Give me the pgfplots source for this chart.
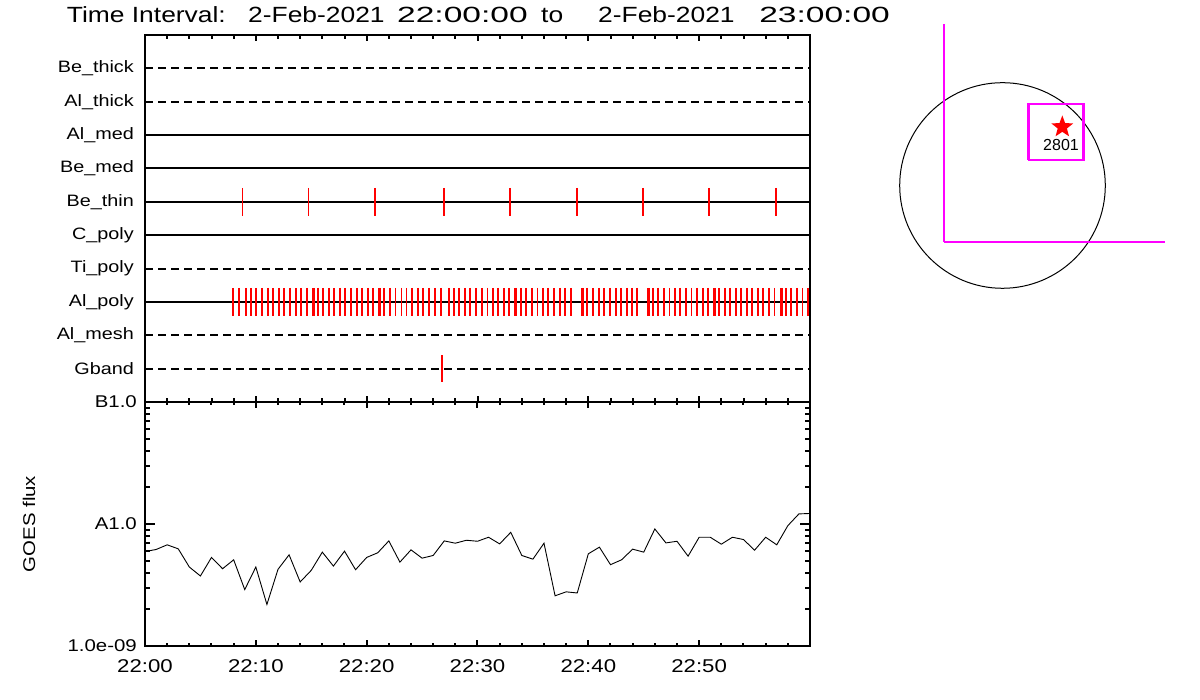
\documentclass[border=0pt]{standalone}
\usepackage{fontspec}
\setmainfont[FakeStretch=1.2]{Liberation Sans}
\newfontfamily\plainfont{Liberation Sans}
\usepackage{graphicx}
\usepackage{pgfplots}
\pgfplotsset{compat=1.18}
\definecolor{idlmag}{RGB}{255,0,255}
\definecolor{idlred}{RGB}{255,0,0}

\pgfdeclareplotmark{fstar}{%
  \pgfpathmoveto{\pgfpointpolar{90}{\pgfplotmarksize}}%
  \pgfpathlineto{\pgfpointpolar{126}{0.42\pgfplotmarksize}}%
  \pgfpathlineto{\pgfpointpolar{162}{\pgfplotmarksize}}%
  \pgfpathlineto{\pgfpointpolar{198}{0.42\pgfplotmarksize}}%
  \pgfpathlineto{\pgfpointpolar{234}{\pgfplotmarksize}}%
  \pgfpathlineto{\pgfpointpolar{270}{0.42\pgfplotmarksize}}%
  \pgfpathlineto{\pgfpointpolar{306}{\pgfplotmarksize}}%
  \pgfpathlineto{\pgfpointpolar{342}{0.42\pgfplotmarksize}}%
  \pgfpathlineto{\pgfpointpolar{18}{\pgfplotmarksize}}%
  \pgfpathlineto{\pgfpointpolar{54}{0.42\pgfplotmarksize}}%
  \pgfpathclose
  \pgfusepathqfill
}

\tikzset{
  solidrow/.style={black, line width=2pt},
  dashrow/.style={black, line width=2pt, dash pattern=on 8pt off 5pt},
  redtick/.style={idlred, only marks, mark=|, mark size=14pt, mark options={idlred, line width=1.7pt}},
}

\begin{document}
\begin{tikzpicture}
\useasboundingbox (0,0) rectangle (1200pt,700pt);

% ---------- title ----------
\begin{scope}[every node/.style={inner sep=0pt, font=\fontsize{22pt}{24pt}\selectfont}]
\node[anchor=base west] at (66.7pt,677.3pt) {Time};
\node[anchor=base west] at (131.7pt,677.3pt) {Interval:};
\node[anchor=base west] at (248pt,677.3pt) {2-Feb-2021};
\node[anchor=base west] at (397pt,677.3pt) {\scalebox{1.27}[1]{22:00:00}};
\node[anchor=base west] at (541pt,677.3pt) {to};
\node[anchor=base west] at (598pt,677.3pt) {2-Feb-2021};
\node[anchor=base east] at (890pt,677.3pt) {\scalebox{1.27}[1]{23:00:00}};
\end{scope}

% ---------- top panel: detector rows ----------
\begin{axis}[
  at={(145pt,298pt)}, anchor=south west, scale only axis,
  width=665pt, height=367pt,
  xmin=0, xmax=60, ymin=0, ymax=11,
  xtick={0,10,...,60}, minor xtick={2,4,...,58},
  xticklabels={},
  ytick={1,...,10},
  yticklabels={Gband, Al\_mesh, Al\_poly, Ti\_poly, C\_poly, Be\_thin, Be\_med, Al\_med, Al\_thick, Be\_thick},
  ytick style={draw=none},
  yticklabel style={font=\fontsize{16.5pt}{18pt}\selectfont, inner sep=0pt, xshift=-11pt},
  tick align=inside,
  major tick length=6pt, minor tick length=4pt,
  every tick/.style={black, line width=2pt},
  axis line style={line width=2.2pt},
]
% red event marks
\addplot[redtick] coordinates {
 (8.8,6) (14.75,6) (20.75,6) (26.98,6) (32.93,6) (38.98,6) (44.93,6) (50.9,6) (56.93,6)
};
\addplot[redtick] coordinates {
 (7.97,3) (8.45,3) (9.14,3) (9.56,3) (10.04,3) (10.58,3) (11.07,3) (11.58,3) (12.06,3) (12.57,3)
 (13.08,3) (13.6,3) (14.1,3) (14.59,3) (15.13,3) (15.23,3) (15.58,3) (16.06,3) (16.58,3) (17.08,3)
 (17.59,3) (18.07,3) (18.59,3) (19.1,3) (19.6,3) (20.12,3) (20.6,3) (21.14,3) (21.24,3) (21.59,3)
 (22.1,3) (22.61,3) (23.13,3) (23.6,3) (24.09,3) (24.6,3) (25.11,3) (25.62,3) (26.14,3) (26.68,3)
 (27.37,3) (27.47,3) (27.85,3) (28.36,3) (28.85,3) (29.35,3) (29.87,3) (30.38,3) (30.89,3) (31.37,3)
 (31.88,3) (32.39,3) (32.87,3) (33.38,3) (33.48,3) (33.9,3) (34.38,3) (34.89,3) (35.4,3) (35.88,3)
 (36.39,3) (36.9,3) (37.42,3) (37.92,3) (38.41,3) (39.4,3) (39.5,3) (39.91,3) (40.42,3) (40.94,3)
 (41.44,3) (41.95,3) (42.47,3) (42.95,3) (43.46,3) (43.94,3) (44.42,3) (45.36,3) (45.46,3) (45.81,3)
 (46.31,3) (46.8,3) (47.31,3) (47.82,3) (48.3,3) (48.81,3) (49.32,3) (49.8,3) (50.32,3) (50.8,3)
 (51.31,3) (51.41,3) (51.79,3) (52.3,3) (52.78,3) (53.3,3) (53.8,3) (54.29,3) (54.79,3) (55.31,3)
 (55.79,3) (56.3,3) (56.81,3) (57.36,3) (57.46,3) (57.81,3) (58.31,3) (58.8,3) (59.31,3) (59.79,3)
};
\addplot[redtick, mark size=13.5pt, mark options={idlred, line width=2pt}] coordinates {(26.8,1)};
% rows
\addplot[dashrow]  coordinates {(0,10) (60,10)};
\addplot[dashrow]  coordinates {(0,9) (60,9)};
\addplot[solidrow] coordinates {(0,8) (60,8)};
\addplot[solidrow] coordinates {(0,7) (60,7)};
\addplot[solidrow] coordinates {(0,6) (60,6)};
\addplot[solidrow] coordinates {(0,5) (60,5)};
\addplot[dashrow]  coordinates {(0,4) (60,4)};
\addplot[solidrow] coordinates {(0,3) (60,3)};
\addplot[dashrow]  coordinates {(0,2) (60,2)};
\addplot[dashrow]  coordinates {(0,1) (60,1)};
\end{axis}

% ---------- bottom panel: GOES flux ----------
\begin{axis}[
  at={(145pt,54pt)}, anchor=south west, scale only axis,
  width=665pt, height=244pt,
  xmin=0, xmax=60, ymode=log, ymin=1e-9, ymax=1e-7,
  xtick={0,10,...,50},
  xticklabels={22:00,22:10,22:20,22:30,22:40,22:50},
  minor xtick={2,4,...,58},
  ytick={1e-9,1e-8,1e-7},
  yticklabels={1.0e-09, A1.0, B1.0},
  minor ytick={2e-9,3e-9,4e-9,5e-9,6e-9,7e-9,8e-9,9e-9,2e-8,3e-8,4e-8,5e-8,6e-8,7e-8,8e-8,9e-8},
  tick align=inside,
  major tick length=10pt, minor tick length=5pt,
  major x tick style={/pgfplots/major tick length=6pt},
  minor x tick style={/pgfplots/minor tick length=3pt},
  every tick/.style={black, line width=2pt},
  axis line style={line width=2.2pt},
  xticklabel style={font=\fontsize{18.5pt}{20pt}\selectfont, inner sep=0pt, yshift=-13pt},
  yticklabel style={font=\fontsize{17pt}{19pt}\selectfont, inner sep=0pt, xshift=-8pt},
  ylabel={GOES flux},
  ylabel style={font=\fontsize{17pt}{19pt}\selectfont, at={(axis description cs:-0.1744,0.5)}, anchor=center},
]
\addplot[black, line width=0.9pt] coordinates {
 (0,5.95e-9) (1,6.18e-9) (2,6.75e-9) (3,6.26e-9) (4,4.44e-9) (5,3.75e-9) (6,5.32e-9) (7,4.30e-9)
 (8,5.09e-9) (9,2.90e-9) (10,4.44e-9) (11,2.19e-9) (12,4.25e-9) (13,5.59e-9) (14,3.35e-9) (15,4.17e-9)
 (16,5.88e-9) (17,4.52e-9) (18,5.99e-9) (19,4.22e-9) (20,5.32e-9) (21,5.81e-9) (22,7.27e-9) (23,4.87e-9)
 (24,6.14e-9) (25,5.25e-9) (26,5.52e-9) (27,7.27e-9) (28,6.96e-9) (29,7.36e-9) (30,7.22e-9) (31,7.79e-9)
 (32,6.87e-9) (33,8.55e-9) (34,5.52e-9) (35,5.15e-9) (36,6.96e-9) (37,2.58e-9) (38,2.78e-9) (39,2.72e-9)
 (40,5.70e-9) (41,6.46e-9) (42,4.64e-9) (43,5.09e-9) (44,6.22e-9) (45,5.88e-9) (46,9.11e-9) (47,7.00e-9)
 (48,7.22e-9) (49,5.45e-9) (50,7.79e-9) (51,7.79e-9) (52,6.83e-9) (53,7.79e-9) (54,7.46e-9) (55,6.10e-9)
 (56,7.79e-9) (57,6.75e-9) (58,9.69e-9) (59,1.21e-8) (60,1.22e-8)
};
\end{axis}

% ---------- right: solar disk locator ----------
\begin{axis}[
  at={(892.5pt,404.5pt)}, anchor=south west, scale only axis,
  width=280pt, height=280pt,
  xmin=-110, xmax=170, ymin=-110, ymax=170,
  hide axis, clip=false,
]
\draw[black, line width=1pt] (axis cs:0,0) circle [radius=102.8pt];
\addplot[idlmag, line width=2pt] coordinates {(-58.8,161.5) (-58.8,-56.5)};
\addplot[idlmag, line width=1.5pt] coordinates {(-58.8,-56.5) (162.5,-56.5)};
\addplot[idlmag, line width=0.8pt] coordinates {(25,82.5) (80,82.5) (80,26.5) (25,26.5) (25,82.5)};
\addplot[idlmag, line width=1.6pt] coordinates {(26.5,81.5) (81.5,81.5) (81.5,25.5) (26.5,25.5) (26.5,81.5)};
\addplot[idlred, only marks, mark=fstar, mark size=11.5pt] coordinates {(59.8,58.5)};
\node[inner sep=0pt, font=\plainfont\fontsize{16pt}{18pt}\selectfont] at (axis cs:58.5,40.5) {2801};
\end{axis}
\end{tikzpicture}
\end{document}
